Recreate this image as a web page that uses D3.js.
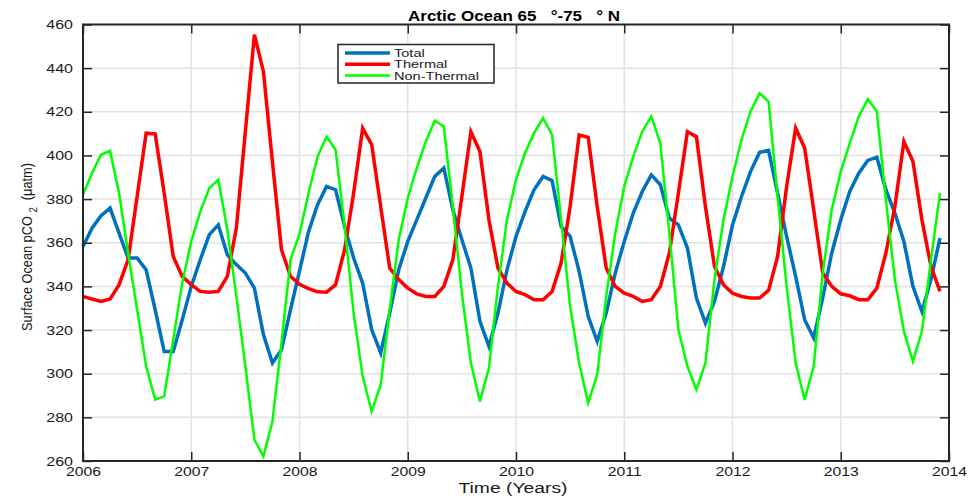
<!DOCTYPE html>
<html>
<head>
<meta charset="utf-8">
<script src="https://cdn.jsdelivr.net/npm/d3@7"></script>
<style>
  html, body { margin: 0; padding: 0; background: #fff; }
  svg { display: block; font-family: "Liberation Sans", Arial, Helvetica, sans-serif; }
</style>
</head>
<body>
<svg id="chart" width="975" height="496"></svg>
<script>
// Monthly surface pCO2 (µatm), Arctic Ocean 65°–75°N, Jan 2006 – Dec 2013
const startYear = 2006;
const endYear = 2014;

const total = [
  358.3, 366.7, 372.4, 375.9, 364.4, 353.0, 353.0, 347.6, 329.3, 310.2, 310.2, 324.7,
  340.0, 352.2, 363.7, 368.2, 354.5, 350.0, 346.1, 339.2, 317.9, 304.9, 311.0, 329.3,
  347.0, 365.0, 377.4, 385.8, 384.3, 367.5, 353.0, 341.5, 320.2, 309.5, 327.8, 347.6,
  360.6, 370.5, 380.5, 390.4, 394.2, 375.1, 361.4, 348.4, 324.0, 312.5, 327.8, 347.6,
  362.9, 374.3, 384.3, 390.4, 388.5, 367.5, 362.9, 346.9, 326.3, 314.8, 327.8, 346.1,
  360.6, 373.6, 383.5, 391.1, 386.6, 371.3, 368.2, 357.6, 334.7, 323.2, 333.1, 349.0,
  368.2, 381.2, 392.6, 401.4, 402.3, 382.7, 362.9, 344.6, 324.7, 316.3, 334.7, 355.3,
  370.5, 383.5, 391.9, 397.7, 399.2, 384.3, 373.6, 360.6, 340.0, 328.5, 343.1, 362.1
];

const thermal = [
  335.4, 334.2, 333.1, 334.2, 340.8, 352.2, 381.2, 410.2, 409.9, 382.7, 353.7, 344.6,
  340.8, 337.7, 337.3, 337.7, 344.6, 366.7, 411.0, 455.3, 438.5, 397.0, 356.8, 344.6,
  341.0, 339.0, 337.5, 337.3, 340.8, 356.8, 382.7, 412.5, 405.0, 376.6, 348.4, 343.1,
  339.2, 336.6, 335.4, 335.4, 340.0, 352.2, 381.2, 410.9, 401.8, 370.5, 348.4, 341.5,
  337.7, 336.2, 333.9, 333.9, 337.7, 350.7, 376.6, 409.4, 408.3, 376.6, 348.4, 340.0,
  336.9, 335.4, 333.1, 333.9, 340.0, 355.3, 382.7, 410.9, 408.6, 376.6, 349.2, 340.8,
  336.9, 335.4, 334.7, 334.7, 338.2, 353.7, 385.8, 412.5, 403.4, 375.1, 346.1, 340.0,
  336.6, 335.7, 333.9, 333.9, 339.2, 355.3, 376.6, 406.4, 397.3, 370.5, 349.2, 337.7
];

const nonThermal = [
  382.0, 391.9, 400.3, 402.1, 382.7, 355.3, 329.3, 303.4, 288.1, 289.6, 315.6, 341.5,
  360.6, 374.3, 385.0, 388.9, 366.0, 335.4, 303.4, 269.8, 262.1, 278.2, 314.0, 352.2,
  364.0, 382.7, 399.5, 408.7, 402.6, 367.5, 327.8, 298.8, 282.7, 295.0, 329.3, 361.4,
  380.5, 394.2, 406.4, 416.0, 413.3, 376.6, 336.9, 304.9, 287.3, 302.6, 340.0, 370.5,
  388.9, 401.1, 410.2, 417.1, 409.4, 370.5, 330.8, 304.9, 286.6, 299.5, 335.4, 364.4,
  385.8, 399.5, 411.0, 417.9, 405.6, 364.4, 320.2, 303.4, 292.7, 304.9, 343.1, 370.5,
  390.4, 407.2, 420.2, 428.5, 424.7, 381.2, 340.0, 304.9, 288.1, 303.4, 346.1, 375.1,
  392.6, 405.6, 417.9, 425.8, 420.2, 379.7, 343.1, 319.4, 305.6, 319.4, 352.2, 382.7
];

const seriesNames = ["Total", "Thermal", "Non-Thermal"];
const seriesColors = ["#0072BD", "#FF0000", "#00FF00"];
const seriesWidths = [3.5, 3.5, 2.5];

const xTicks = [2006, 2007, 2008, 2009, 2010, 2011, 2012, 2013, 2014];
const yTicks = [260, 280, 300, 320, 340, 360, 380, 400, 420, 440, 460];

const margin = { left: 83, right: 26, top: 24.5, bottom: 35 };
const W = 975, H = 496;
const svg = d3.select("#chart");

const x = d3.scaleLinear().domain([startYear, endYear]).range([margin.left, W - margin.right]);
const y = d3.scaleLinear().domain([260, 460]).range([H - margin.bottom, margin.top]);

const [x0, x1] = x.range();
const [y0, y1] = y.range();
const ink = "#262626";

// widen glyphs horizontally by a factor (wide sans look)
function stretch(sel, factor) {
  sel.each(function () {
    const w = this.getComputedTextLength();
    if (w > 0) {
      d3.select(this).attr("textLength", w * factor).attr("lengthAdjust", "spacingAndGlyphs");
    }
  });
}

// grid
const grid = svg.append("g");
grid.selectAll("line.gx").data(xTicks).join("line")
  .attr("x1", d => x(d)).attr("x2", d => x(d))
  .attr("y1", y1).attr("y2", y0)
  .attr("stroke", "#e2e2e2").attr("stroke-width", 1.5);
grid.selectAll("line.gy").data(yTicks).join("line")
  .attr("x1", x0).attr("x2", x1)
  .attr("y1", d => y(d)).attr("y2", d => y(d))
  .attr("stroke", "#e2e2e2").attr("stroke-width", 1.5);

// data lines
const months = d3.range(total.length).map(i => startYear + i / 12);
const line = d3.line().x((d, i) => x(months[i])).y(d => y(d));
[total, thermal, nonThermal].forEach((vals, k) => {
  svg.append("path")
    .datum(vals)
    .attr("d", line)
    .attr("fill", "none")
    .attr("stroke", seriesColors[k])
    .attr("stroke-width", seriesWidths[k])
    .attr("stroke-linejoin", "miter");
});

// axes with inward ticks on all four sides
function styleAxis(g) {
  g.select(".domain").remove();
  g.selectAll(".tick line").attr("stroke", ink).attr("stroke-width", 1.5);
  g.selectAll(".tick text").attr("fill", "#1a1a1a").attr("font-size", 12.5);
}
const tickLen = 9;
const xAxisG = svg.append("g").attr("transform", `translate(0,${y0})`)
  .call(d3.axisBottom(x).tickValues(xTicks).tickFormat(d3.format("d")).tickSize(-tickLen).tickPadding(6))
  .call(styleAxis);
svg.append("g").attr("transform", `translate(0,${y1})`)
  .call(d3.axisTop(x).tickValues(xTicks).tickFormat("").tickSize(-tickLen))
  .call(styleAxis);
const yAxisG = svg.append("g").attr("transform", `translate(${x0},0)`)
  .call(d3.axisLeft(y).tickValues(yTicks).tickFormat(d3.format("d")).tickSize(-tickLen).tickPadding(10))
  .call(styleAxis);
svg.append("g").attr("transform", `translate(${x1},0)`)
  .call(d3.axisRight(y).tickValues(yTicks).tickFormat("").tickSize(-tickLen))
  .call(styleAxis);
stretch(xAxisG.selectAll(".tick text"), 1.26);
stretch(yAxisG.selectAll(".tick text"), 1.28);

// box
svg.append("rect")
  .attr("x", x0).attr("y", y1).attr("width", x1 - x0).attr("height", y0 - y1)
  .attr("fill", "none").attr("stroke", ink).attr("stroke-width", 2);

// title
svg.append("text")
  .attr("x", 514).attr("y", 20.5)
  .attr("text-anchor", "middle")
  .attr("font-size", 15).attr("font-weight", "bold").attr("fill", "#000")
  .attr("xml:space", "preserve")
  .style("white-space", "pre")
  .attr("textLength", 212).attr("lengthAdjust", "spacingAndGlyphs")
  .text("Arctic Ocean 65   °-75   ° N");

// x label
svg.append("text")
  .attr("x", 513).attr("y", 492.5)
  .attr("text-anchor", "middle")
  .attr("font-size", 14).attr("fill", "#1a1a1a")
  .attr("textLength", 109).attr("lengthAdjust", "spacingAndGlyphs")
  .text("Time (Years)");

// y label (condensed along its run)
const yl = svg.append("text")
  .attr("transform", `translate(32,247) rotate(-90) scale(0.88,1)`)
  .attr("text-anchor", "middle")
  .attr("font-size", 14.5).attr("fill", "#1a1a1a")
  .attr("xml:space", "preserve")
  .style("white-space", "pre");
yl.append("tspan").text("Surface Ocean pCO ");
yl.append("tspan").attr("dy", 5).attr("font-size", 11).text("2");
yl.append("tspan").attr("dy", -5).text("  (μatm)");

// legend
const lg = svg.append("g");
lg.append("rect")
  .attr("x", 338).attr("y", 44.5).attr("width", 156).attr("height", 38.5)
  .attr("fill", "#fff").attr("stroke", ink).attr("stroke-width", 1.5);
seriesNames.forEach((name, k) => {
  const ly = 53 + k * 11.3;
  lg.append("line")
    .attr("x1", 345).attr("x2", 390).attr("y1", ly).attr("y2", ly)
    .attr("stroke", seriesColors[k]).attr("stroke-width", seriesWidths[k]);
  lg.append("text")
    .attr("x", 394).attr("y", ly + 4)
    .attr("font-size", 11.2).attr("fill", "#1a1a1a")
    .text(name)
    .call(stretch, 1.3);
});
</script>
</body>
</html>
